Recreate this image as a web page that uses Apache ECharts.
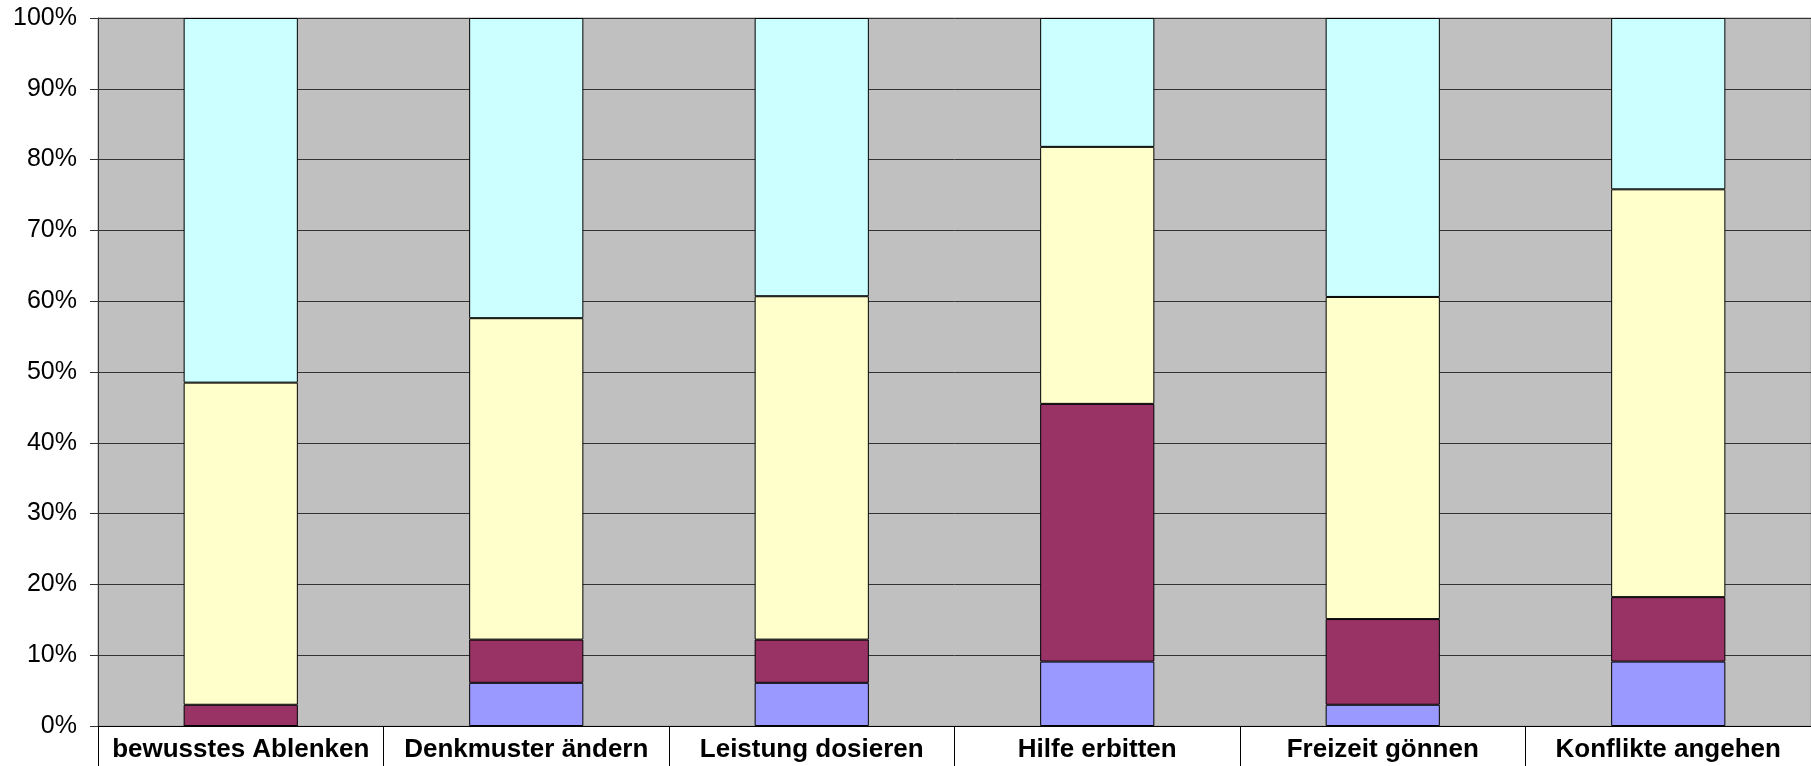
<!DOCTYPE html>
<html>
<head>
<meta charset="utf-8">
<script src="https://cdn.jsdelivr.net/npm/echarts@6/dist/echarts.min.js"></script>
<style>
  html, body { margin:0; padding:0; background:#fff; }
  #chart { width:1811px; height:766px; }
</style>
</head>
<body>
<div id="chart"></div>
<script>
// Kategorien (x-Achse)
var categories = ['bewusstes Ablenken', 'Denkmuster ändern', 'Leistung dosieren', 'Hilfe erbitten', 'Freizeit gönnen', 'Konflikte angehen'];

// Anteile in %, von unten nach oben gestapelt
var serie1 = [0, 6.1, 6.1, 9.1, 3.0, 9.1];
var serie2 = [3.0, 6.1, 6.1, 36.4, 12.1, 9.1];
var serie3 = [45.5, 45.4, 48.5, 36.3, 45.5, 57.6];
var serie4 = [51.5, 42.4, 39.3, 18.2, 39.4, 24.2];

var yTicks = [0, 10, 20, 30, 40, 50, 60, 70, 80, 90, 100];

var farben = ['#9999FF', '#993366', '#FFFFCC', '#CCFFFF'];
var schrift = '"Liberation Sans", Arial, sans-serif';

function bar(name, data, color){
  return {
    name: name, type: 'bar', stack: 'gesamt', data: data,
    barCategoryGap: '60%',
    itemStyle: { color: color, borderColor: '#000', borderWidth: 1 },
    emphasis: { disabled: true }
  };
}

var series = [
  bar('1', serie1, farben[0]),
  bar('2', serie2, farben[1]),
  bar('3', serie3, farben[2]),
  bar('4', serie4, farben[3])
];

var chart = echarts.init(document.getElementById('chart'));
var option = {
  animation: false,
  grid: {
    left: 98, right: 0, top: 18, bottom: 40,
    show: true, backgroundColor: '#C0C0C0', borderColor: '#A0A0A0', borderWidth: 1
  },
  xAxis: {
    type: 'category', data: categories,
    axisLine: { lineStyle: { color: '#000', width: 1 } },
    axisTick: { show: true, length: 40, alignWithLabel: false, lineStyle: { color: '#000', width: 1 } },
    axisLabel: { color: '#000', fontFamily: schrift, fontSize: 26, fontWeight: 'bold', margin: 11, interval: 0 }
  },
  yAxis: {
    type: 'value', min: yTicks[0], max: yTicks[yTicks.length - 1], interval: 10,
    axisLine: { show: true, lineStyle: { color: '#333', width: 1 } },
    axisTick: { show: true, length: 8, lineStyle: { color: '#333', width: 1 } },
    axisLabel: { color: '#000', fontFamily: schrift, fontSize: 25, margin: 21, formatter: '{value}%' },
    splitLine: { show: true, lineStyle: { color: '#333', width: 1 } }
  },
  series: series
};
chart.setOption(option);
</script>
</body>
</html>
